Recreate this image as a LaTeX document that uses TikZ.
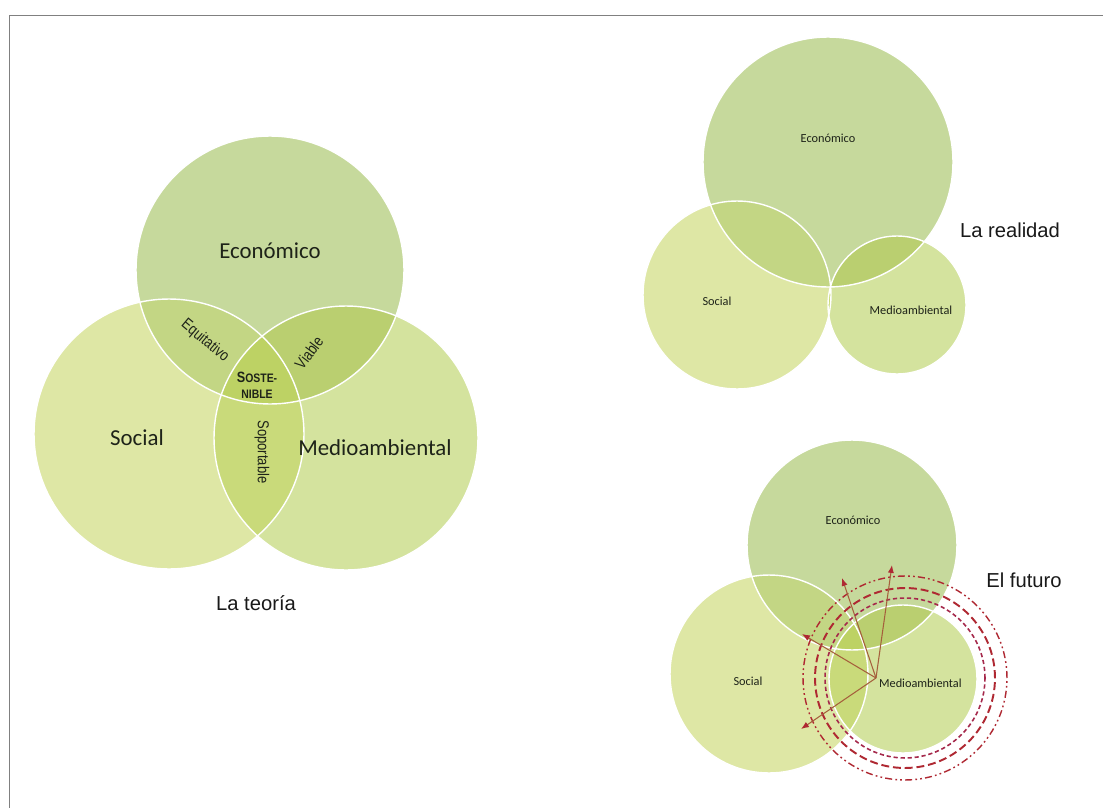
\documentclass[tikz,border=0pt]{standalone}
\usepackage{fontspec}
\setmainfont{Liberation Sans}
\newfontfamily\calfont{Carlito}
\usetikzlibrary{arrows.meta}
\definecolor{cE}{RGB}{198,217,156}
\definecolor{cS}{RGB}{222,231,165}
\definecolor{cM}{RGB}{212,227,158}
\definecolor{cES}{RGB}{195,214,132}
\definecolor{cEM}{RGB}{186,207,112}
\definecolor{cSM}{RGB}{201,218,122}
\definecolor{cESM}{RGB}{189,210,100}
\definecolor{framegray}{RGB}{128,128,128}
\definecolor{dred}{RGB}{175,40,50}
\definecolor{dpurp}{RGB}{165,40,75}
\definecolor{abrown}{RGB}{165,95,60}
\definecolor{txt}{RGB}{30,35,25}
\newcommand\myvenn[6]{%
  \fill[cE] (#1) circle[radius=#2];
  \fill[cS] (#3) circle[radius=#4];
  \fill[cM] (#5) circle[radius=#6];
  \begin{scope}
    \clip (#1) circle[radius=#2];
    \fill[cES] (#3) circle[radius=#4];
    \fill[cEM] (#5) circle[radius=#6];
  \end{scope}
  \begin{scope}
    \clip (#3) circle[radius=#4];
    \fill[cSM] (#5) circle[radius=#6];
    \clip (#5) circle[radius=#6];
    \fill[cESM] (#1) circle[radius=#2];
  \end{scope}
  \draw[outl] (#1) circle[radius=#2];
  \draw[outl] (#3) circle[radius=#4];
  \draw[outl] (#5) circle[radius=#6];
}
\begin{document}
\begin{tikzpicture}[x=0.02cm,y=-0.02cm,
  outl/.style={white, line width=0.8pt},
  lblL/.style={font=\calfont\fontsize{13}{15}\selectfont, text=txt, inner sep=1pt},
  lblS/.style={font=\calfont\fontsize{7}{8}\selectfont, text=txt, inner sep=1pt},
  title/.style={font=\fontsize{11.5}{13}\selectfont, text=black!90, inner sep=1pt},
  narrow/.style={font=\fontsize{9}{10}\selectfont, text=txt, inner sep=1pt},
  sost/.style={font=\bfseries\fontsize{8.5}{10}\selectfont, text=txt, inner sep=1pt, align=center},
  arr/.style={abrown, line width=0.6pt, -{Latex[length=4.5pt,width=3.5pt,color=dred]}},
  ring1/.style={dpurp, line width=0.9pt, dash pattern=on 2.4pt off 1.6pt},
  ring2/.style={dred, line width=1.1pt, dash pattern=on 4.5pt off 2.2pt},
  ring3/.style={dred, line width=0.8pt, dash pattern=on 4pt off 1.8pt on 1pt off 1.8pt on 1pt off 1.8pt}
]
\useasboundingbox (0,0) rectangle (1103,808);
\fill[white] (0,0) rectangle (1103,808);
\draw[framegray, line width=1.1pt] (9.5,808) -- (9.5,15.5) -- (1103,15.5);

% ---------- La teoria ----------
\coordinate (E1) at (270,270);
\coordinate (S1) at (169,434);
\coordinate (M1) at (346,438);
\myvenn{E1}{2.68cm}{S1}{2.70cm}{M1}{2.64cm}
\node[lblL] (econ1) at (270,251) {Económico};
\node[lblL] (soc1) at (137,438) {Social};
\node[lblL] (med1) at (375,448) {Medioambiental};
\node[title] (t1) at (256,603) {La teoría};
\node[narrow, rotate=-40] (eq) at (205,341) {\scalebox{0.82}[1]{Equitativo}};
\node[narrow, rotate=53] (via) at (309,353) {\scalebox{0.82}[1]{Viable}};
\node[narrow, rotate=-90] (sop) at (262,452) {\scalebox{0.82}[1]{Soportable}};
\node[sost] (sos) at (257,385) {\scalebox{0.85}[1]{S{\fontsize{7}{8}\selectfont OSTE-}}\\[-1pt]\scalebox{0.85}[1]{\fontsize{7}{8}\selectfont NIBLE}};

% ---------- La realidad ----------
\coordinate (E2) at (828,162);
\coordinate (S2) at (737,295);
\coordinate (M2) at (897,305);
\myvenn{E2}{2.50cm}{S2}{1.88cm}{M2}{1.38cm}
\node[lblS] (econ2) at (828,138) {Económico};
\node[lblS] (soc2) at (717,301) {Social};
\node[lblS] (med2) at (911,310) {Medioambiental};
\node[title] (t2) at (1010,230) {La realidad};

% ---------- El futuro ----------
\coordinate (E3) at (852,545);
\coordinate (S3) at (769,674);
\coordinate (M3) at (903,679);
\myvenn{E3}{2.10cm}{S3}{1.98cm}{M3}{1.48cm}
\coordinate (R) at (905,678);
\draw[ring1] (R) circle[radius=1.60cm];
\draw[ring2] (R) circle[radius=1.80cm];
\draw[ring3] (R) circle[radius=2.04cm];
\node[lblS] (econ3) at (853,520) {Económico};
\node[lblS] (soc3) at (748,681) {Social};
\coordinate (src) at (876,678);
\node[lblS, anchor=west] (med3) at (877,683) {Medioambiental};
\node[title] (t3) at (1024,580) {El futuro};
\coordinate (a1) at (842,578);
\coordinate (a2) at (892,565);
\coordinate (a3) at (802,634);
\coordinate (a4) at (801,729);
\draw[arr] (src) -- (a1);
\draw[arr] (src) -- (a2);
\draw[arr] (src) -- (a3);
\draw[arr] (src) -- (a4);
\end{tikzpicture}
\end{document}
